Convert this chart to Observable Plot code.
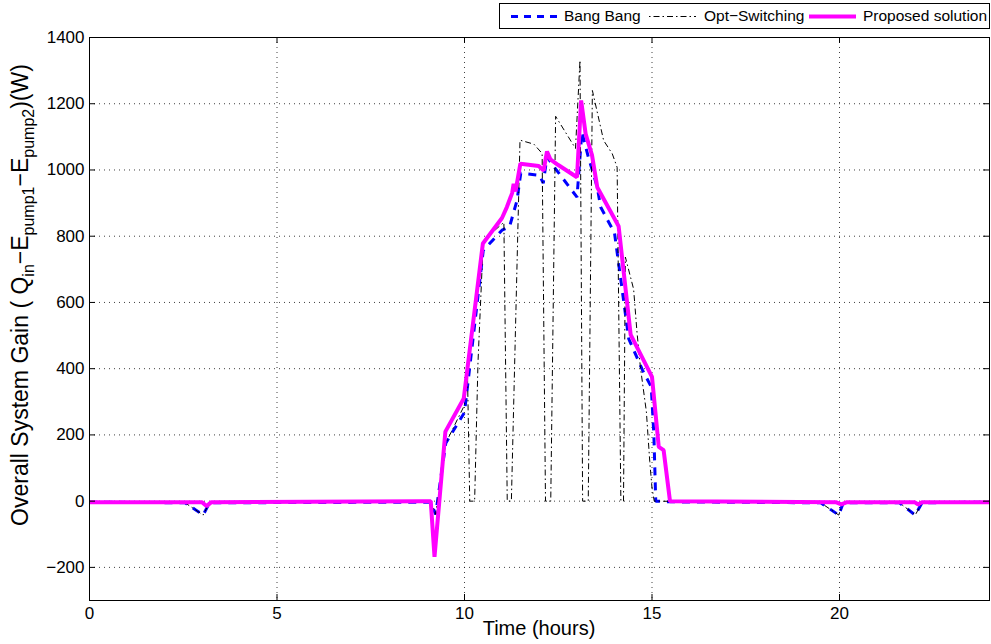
<!DOCTYPE html>
<html>
<head>
<meta charset="utf-8">
<script src="https://cdn.jsdelivr.net/npm/d3@7"></script>
<script src="https://cdn.jsdelivr.net/npm/@observablehq/plot@0.6"></script>
<style>
  body { margin: 0; background: #fff; }
  #wrap { position: relative; width: 991px; height: 644px; font-family: "Liberation Sans", Arial, sans-serif; }
  #chart { position: absolute; left: 0; top: 0; }
  #legend { position: absolute; left: 499px; top: 3px; width: 489px; height: 24px; border: 1px solid #000; background: #fff; font-size: 15.5px; }
  #legend .item { position: absolute; top: 0; height: 24px; line-height: 24px; white-space: nowrap; }
  #legend svg { position: absolute; top: 0; }
</style>
</head>
<body>
<div id="wrap">
  <div id="chart"></div>
  <div id="legend"></div>
</div>
<script>
// ---- data ----
const seriesNames = ["Bang Bang", "Opt\u2212Switching", "Proposed solution"];

const tBang = [0, 2.55, 3.03, 3.2, 9.1, 9.23, 9.5, 10.0, 10.5, 11.0, 11.2, 11.4, 11.5, 12.0, 12.1, 12.2, 12.35, 13.0, 13.13, 13.3, 13.54, 13.63, 14.0, 14.38, 14.75, 14.98, 15.05, 15.1, 15.5, 19.5, 19.98, 20.1, 21.6, 22.02, 22.2, 24];
const vBang = [-3, -5, -42, -5, -3, -40, 175, 268, 757, 818, 828, 908, 990, 984, 960, 1040, 1015, 918, 1115, 1040, 948, 888, 810, 490, 395, 345, 200, 0, -2, -5, -42, -5, -5, -42, -5, -3];

const tOpt = [0, 2.55, 3.03, 3.2, 9.1, 9.23, 9.5, 10.0, 10.08, 10.14, 10.27, 10.36, 10.5, 11.05, 11.14, 11.25, 11.48, 11.85, 12.07, 12.16, 12.3, 12.43, 12.96, 13.08, 13.15, 13.3, 13.41, 13.71, 13.94, 14.07, 14.17, 14.24, 14.29, 14.51, 14.6, 14.69, 14.85, 14.94, 15.0, 15.06, 19.5, 19.98, 20.1, 21.6, 22.02, 22.2, 24];
const vOpt = [-3, -5, -42, -5, 0, -40, 175, 290, 380, 0, 0, 420, 787, 842, 0, 0, 1090, 1078, 1050, 0, 0, 1162, 1065, 1331, 0, 0, 1240, 1089, 1049, 1008, 0, 0, 737, 640, 510, 405, 270, 120, 40, 0, -5, -42, -5, -5, -42, -5, -3];

const tProp = [0, 3.0, 3.12, 3.25, 8.9, 9.1, 9.2, 9.49, 9.98, 10.49, 11.0, 11.13, 11.27, 11.31, 11.36, 11.49, 11.98, 12.11, 12.2, 12.29, 12.5, 13.0, 13.11, 13.23, 13.4, 13.54, 14.11, 14.43, 15.0, 15.18, 15.31, 15.48, 19.9, 20.05, 20.2, 22.0, 22.1, 22.2, 24];
const vProp = [-3, -3, -15, -3, 0, 0, -168, 210, 310, 778, 855, 888, 930, 958, 935, 1019, 1012, 998, 1056, 1032, 1015, 978, 1210, 1109, 1045, 948, 830, 503, 375, 164, 154, 0, -3, -10, -3, -3, -10, -3, -3];

const xTicks = [0, 5, 10, 15, 20];
const yTicks = [-200, 0, 200, 400, 600, 800, 1000, 1200, 1400];
const xDomain = [0, 24];
const yDomain = [-300, 1400];

// ---- build tables ----
const toRows = (ts, vs) => ts.map((t, i) => ({t, v: vs[i]}));
const bang = toRows(tBang, vBang);
const opt = toRows(tOpt, vOpt);
const prop = toRows(tProp, vProp);

const H = 644, MT = 37, MB = 44, ML = 89, MR = 2, W = 991;
const innerH = H - MT - MB, innerW = W - ML - MR, tick = 6;

const gridStyle = {stroke: "#000", strokeOpacity: 0.75, strokeDasharray: "1,4", strokeWidth: 1};

const chart = Plot.plot({
  width: W, height: H,
  marginTop: MT, marginBottom: MB, marginLeft: ML, marginRight: MR,
  x: {domain: xDomain},
  y: {domain: yDomain},
  style: {fontFamily: "'Liberation Sans', Arial, sans-serif", fontSize: "17px", color: "#000", background: "#fff"},
  marks: [
    Plot.gridX(xTicks, gridStyle),
    Plot.gridY(yTicks, gridStyle),
    Plot.line(bang, {x: "t", y: "v", stroke: "#0000ff", strokeWidth: 3, strokeDasharray: "8,7", strokeLinecap: "butt", strokeLinejoin: "miter"}),
    Plot.line(opt, {x: "t", y: "v", stroke: "#000", strokeWidth: 1, strokeDasharray: "6,3,1.5,3", strokeLinecap: "butt", strokeLinejoin: "miter"}),
    Plot.line(prop, {x: "t", y: "v", stroke: "#ff00ff", strokeWidth: 4, strokeLinejoin: "miter", strokeLinecap: "butt"}),
    Plot.ruleX(xTicks, {x: d => d, insetTop: innerH - tick, stroke: "#000"}),
    Plot.ruleX(xTicks, {x: d => d, insetBottom: innerH - tick, stroke: "#000"}),
    Plot.ruleY(yTicks, {y: d => d, insetRight: innerW - tick, stroke: "#000"}),
    Plot.ruleY(yTicks, {y: d => d, insetLeft: innerW - tick, stroke: "#000"}),
    Plot.frame({stroke: "#000", strokeWidth: 1}),
    Plot.axisX(xTicks, {tickSize: 0, tickPadding: 6, label: null, tickFormat: d3.format("d")}),
    Plot.axisY(yTicks, {tickSize: 0, tickPadding: 5, label: null, tickFormat: d3.format("d")})
  ]
});
document.getElementById("chart").appendChild(chart);

// ---- axis titles as real text (with subscripts) ----
const svg = d3.select(chart);
svg.append("text")
  .attr("x", ML + innerW / 2).attr("y", 635)
  .attr("text-anchor", "middle")
  .attr("font-size", 20).attr("fill", "#000")
  .text("Time (hours)");

const yl = svg.append("text")
  .attr("transform", `translate(28,295) rotate(-90)`)
  .attr("text-anchor", "middle")
  .attr("font-size", 23).attr("fill", "#000");
const parts = [
  ["Overall System Gain ( Q", 0, 23], ["in", 6, 16], ["\u2212E", -6, 23],
  ["pump1", 6, 16], ["\u2212E", -6, 23], ["pump2", 6, 16], [")(W)", -6, 23]
];
parts.forEach(([s, dy, fs]) => yl.append("tspan").attr("dy", dy).attr("font-size", fs).text(s));

// ---- legend ----
const legend = d3.select("#legend");
const items = [
  {name: seriesNames[0], stroke: "#0000ff", width: 3, dash: "7,6", lx: 11, tx: 64},
  {name: seriesNames[1], stroke: "#000", width: 1, dash: "1.5,3,6,3", lx: 149, tx: 204},
  {name: seriesNames[2], stroke: "#ff00ff", width: 4, dash: null, lx: 309, tx: 363}
];
items.forEach(it => {
  const s = legend.append("svg").attr("width", 47).attr("height", 24).style("left", it.lx + "px");
  s.append("line").attr("x1", 0).attr("x2", 47).attr("y1", 12.5).attr("y2", 12.5)
    .attr("stroke", it.stroke).attr("stroke-width", it.width)
    .attr("stroke-dasharray", it.dash);
  legend.append("div").attr("class", "item").style("left", it.tx + "px").text(it.name);
});
</script>
</body>
</html>
